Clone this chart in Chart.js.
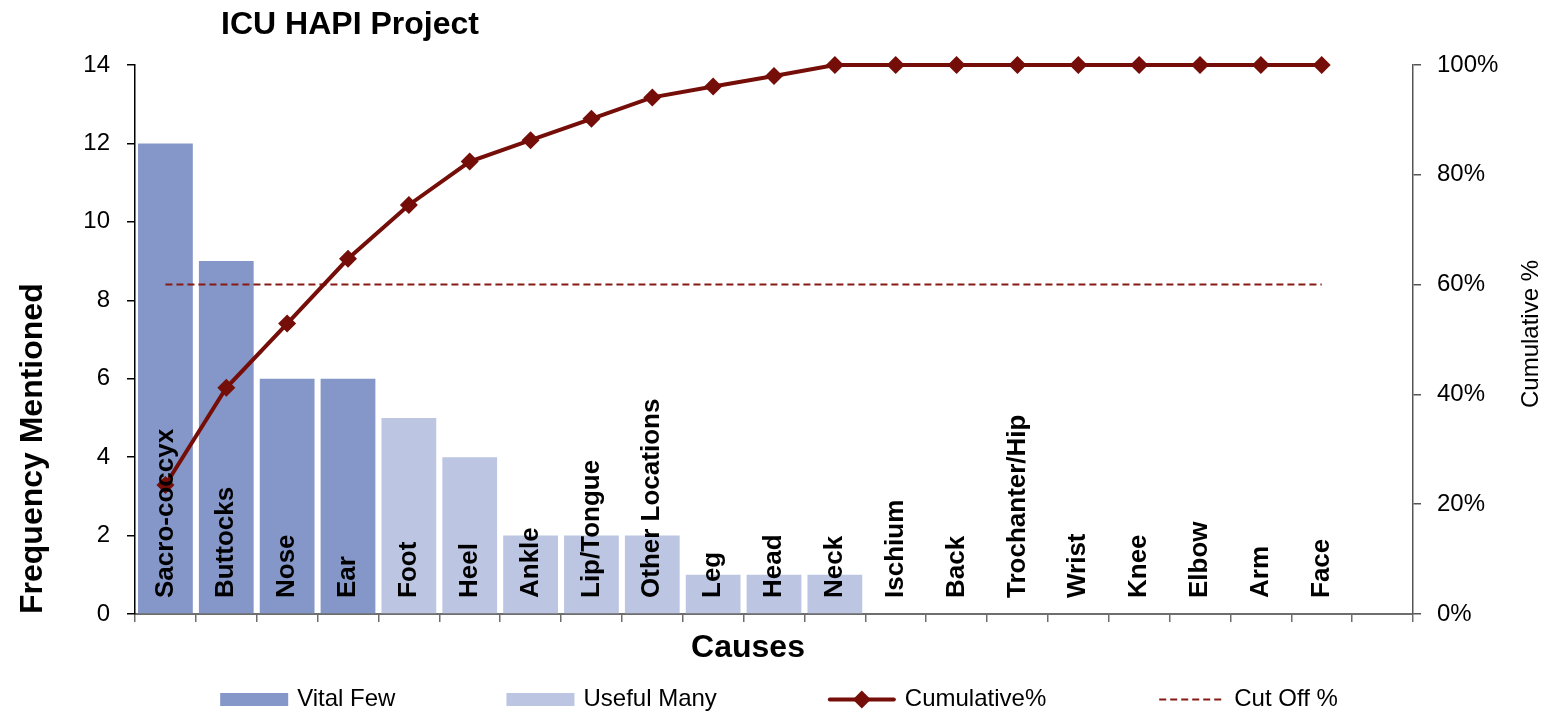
<!DOCTYPE html>
<html>
<head>
<meta charset="utf-8">
<title>ICU HAPI Project</title>
<script src="https://cdn.jsdelivr.net/npm/chart.js@4/dist/chart.umd.min.js"></script>
<style>
  html, body { margin: 0; padding: 0; background: #ffffff; }
  canvas { display: block; }
</style>
</head>
<body>
<canvas id="pareto" width="1547" height="713"></canvas>
<script>
// Pressure-injury locations, sorted by frequency (last slot left empty)
const categories = ['Sacro-coccyx', 'Buttocks', 'Nose', 'Ear', 'Foot', 'Heel', 'Ankle',
  'Lip/Tongue', 'Other Locations', 'Leg', 'Head', 'Neck', 'Ischium', 'Back',
  'Trochanter/Hip', 'Wrist', 'Knee', 'Elbow', 'Arm', 'Face', ''];

// Counts for the "vital few" locations
const vitalFew = [12, 9, 6, 6, null, null, null, null, null, null, null, null,
  null, null, null, null, null, null, null, null, null];

// Counts for the "useful many" locations
const usefulMany = [null, null, null, null, 5, 4, 2, 2, 2, 1, 1, 1,
  0, 0, 0, 0, 0, 0, 0, 0, null];

// Running share of all mentions, in percent
const cumulativePct = [23.5, 41.2, 52.9, 64.7, 74.5, 82.4, 86.3, 90.2, 94.1, 96.1, 98.0, 100,
  100, 100, 100, 100, 100, 100, 100, 100, null];

// Cut-off threshold, in percent
const cutOffPct = [60, 60, 60, 60, 60, 60, 60, 60, 60, 60, 60, 60,
  60, 60, 60, 60, 60, 60, 60, 60, null];

// Axis tick values
const frequencyTicks = [0, 2, 4, 6, 8, 10, 12, 14];
const percentTicks = [0, 20, 40, 60, 80, 100];

const FONT = "'Liberation Sans', Arial, Helvetica, sans-serif";
const VITAL = '#8597c9';
const USEFUL = '#bcc6e3';
const LINE_RED = '#750d08';
const CUT_RED = '#861a14';

// Titles, in-plot category labels and the legend row
const decorations = {
  id: 'decorations',
  afterDatasetsDraw(chart) {
    const { ctx, chartArea, scales } = chart;
    ctx.save();
    ctx.fillStyle = '#000';
    ctx.font = `bold 26px ${FONT}`;
    ctx.textAlign = 'left';
    ctx.textBaseline = 'middle';
    categories.forEach((name, i) => {
      if (!name) return;
      const x = scales.x.getPixelForValue(i);
      ctx.save();
      ctx.translate(x, chartArea.bottom - 16);
      ctx.rotate(-Math.PI / 2);
      ctx.fillText(name, 0, 0);
      ctx.restore();
    });
    ctx.restore();
  },
  afterDraw(chart) {
    const { ctx, chartArea } = chart;
    ctx.save();
    ctx.fillStyle = '#000';
    ctx.textBaseline = 'middle';

    // Chart title
    ctx.font = `bold 32px ${FONT}`;
    ctx.textAlign = 'center';
    ctx.fillText('ICU HAPI Project', 350, 25);

    // Category axis title
    ctx.fillText('Causes', 748, 648);

    // Right axis title
    ctx.font = `24px ${FONT}`;
    ctx.save();
    ctx.translate(1531, 334);
    ctx.rotate(-Math.PI / 2);
    ctx.fillText('Cumulative %', 0, 0);
    ctx.restore();

    // Legend row
    const order = [2, 3, 0, 1];
    const symW = 68, symGap = 9, itemGap = 111, rowY = 699.5;
    ctx.font = `24px ${FONT}`;
    const items = order.map(i => {
      const ds = chart.data.datasets[i];
      return { ds, w: symW + symGap + ctx.measureText(ds.label).width };
    });
    const total = items.reduce((s, it) => s + it.w, 0) + itemGap * (items.length - 1);
    let x = (chartArea.left + chartArea.right) / 2 + 5 - total / 2;
    items.forEach(({ ds, w }) => {
      if (ds.type === 'line') {
        ctx.save();
        ctx.strokeStyle = ds.borderColor;
        ctx.lineWidth = ds.borderWidth;
        ctx.lineCap = ds.borderDash ? 'butt' : 'round';
        ctx.setLineDash(ds.borderDash || []);
        ctx.beginPath();
        ctx.moveTo(x + 2, rowY);
        ctx.lineTo(x + symW - 2, rowY);
        ctx.stroke();
        if (ds.pointRadius > 0) {
          const cx = x + symW / 2, r = ds.pointRadius;
          ctx.fillStyle = ds.backgroundColor;
          ctx.beginPath();
          ctx.moveTo(cx, rowY - r);
          ctx.lineTo(cx + r, rowY);
          ctx.lineTo(cx, rowY + r);
          ctx.lineTo(cx - r, rowY);
          ctx.closePath();
          ctx.fill();
        }
        ctx.restore();
      } else {
        ctx.fillStyle = ds.backgroundColor;
        ctx.fillRect(x, rowY - 6.5, symW, 13);
      }
      ctx.fillStyle = '#000';
      ctx.textAlign = 'left';
      ctx.fillText(ds.label, x + symW + symGap, rowY);
      x += w + itemGap;
    });
    ctx.restore();
  }
};

new Chart(document.getElementById('pareto'), {
  type: 'bar',
  data: {
    labels: categories,
    datasets: [
      {
        type: 'line',
        label: 'Cumulative%',
        data: cumulativePct,
        yAxisID: 'y1',
        borderColor: LINE_RED,
        backgroundColor: LINE_RED,
        borderWidth: 4,
        pointStyle: 'rectRot',
        pointRadius: 9,
        pointBorderWidth: 0,
        pointBackgroundColor: LINE_RED,
        tension: 0,
        clip: false,
        order: 0
      },
      {
        type: 'line',
        label: 'Cut Off %',
        data: cutOffPct,
        yAxisID: 'y1',
        borderColor: CUT_RED,
        backgroundColor: CUT_RED,
        borderWidth: 2,
        borderDash: [7, 4],
        pointRadius: 0,
        order: 1
      },
      {
        label: 'Vital Few',
        data: vitalFew,
        yAxisID: 'y',
        backgroundColor: VITAL,
        grouped: false,
        barPercentage: 1,
        categoryPercentage: 0.9,
        order: 2
      },
      {
        label: 'Useful Many',
        data: usefulMany,
        yAxisID: 'y',
        backgroundColor: USEFUL,
        grouped: false,
        barPercentage: 1,
        categoryPercentage: 0.9,
        order: 3
      }
    ]
  },
  options: {
    responsive: false,
    devicePixelRatio: 1,
    animation: false,
    layout: { padding: { top: 65, left: 0, right: 0, bottom: 0 } },
    plugins: {
      legend: { display: false },
      title: { display: false },
      tooltip: { enabled: false }
    },
    scales: {
      x: {
        type: 'category',
        offset: true,
        grid: { offset: true, drawOnChartArea: false, drawTicks: true, tickLength: 8, color: '#6e6e6e', lineWidth: 1.5 },
        border: { display: true, color: '#6e6e6e', width: 2 },
        ticks: { display: false },
        afterFit(scale) { scale.height = 99; }
      },
      y: {
        position: 'left',
        min: 0,
        max: 14,
        afterBuildTicks(scale) { scale.ticks = frequencyTicks.map(v => ({ value: v })); },
        ticks: { color: '#000', padding: 17, font: { family: FONT, size: 24 } },
        grid: { drawOnChartArea: false, drawTicks: true, tickLength: 8, color: '#000', lineWidth: 1.5 },
        border: { display: true, color: '#000', width: 1.5 },
        title: {
          display: true,
          text: 'Frequency Mentioned',
          align: 'start',
          color: '#000',
          padding: { top: 14, bottom: 0 },
          font: { family: FONT, size: 32, weight: 'bold' }
        },
        afterFit(scale) { scale.width = 135; }
      },
      y1: {
        position: 'right',
        min: 0,
        max: 100,
        afterBuildTicks(scale) { scale.ticks = percentTicks.map(v => ({ value: v })); },
        ticks: { color: '#000', padding: 16, font: { family: FONT, size: 24 }, callback: v => v + '%' },
        grid: { drawOnChartArea: false, drawTicks: true, tickLength: 8, color: '#555', lineWidth: 1.5 },
        border: { display: true, color: '#555', width: 1.5 },
        afterFit(scale) { scale.width = 134; }
      }
    }
  },
  plugins: [decorations]
});
</script>
</body>
</html>
